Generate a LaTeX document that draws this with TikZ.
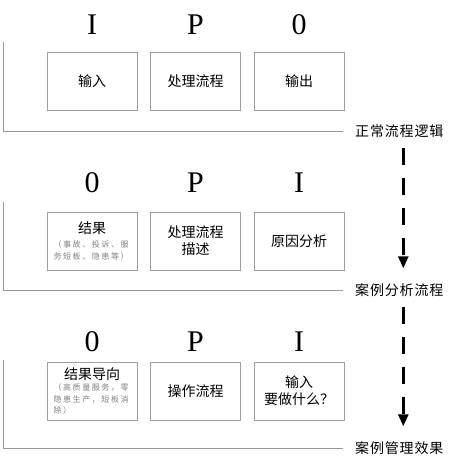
\documentclass[tikz,border=0pt]{standalone}
\usepackage{fontspec}
\setmainfont{Noto Sans CJK SC}
\newfontfamily\latinserif{Liberation Serif}
\newfontfamily\cjkwide{Noto Sans CJK SC}[LetterSpace=6]
\newfontfamily\cjksmall{Noto Sans CJK SC}[LetterSpace=20]
\usetikzlibrary{arrows.meta, positioning}

\newcommand{\notetext}[1]{\parbox[t]{77pt}{\cjksmall\fontsize{8}{11.5}\selectfont\color{gray}#1}}

\begin{document}
\begin{tikzpicture}[
    x=1pt, y=-1pt,
    bracket/.style={
        draw=gray!80,
        line width=0.8pt,
    },
    flow/.style={
        line width=2.6pt,
        dash pattern=on 17pt off 13pt,
        -{Triangle[width=10pt,length=12pt]},
        shorten <=10pt,
        shorten >=15pt,
    },
    stage/.style={
        rectangle,
        draw=gray!75,
        line width=0.8pt,
        minimum width=90pt,
        minimum height=58pt,
        align=center,
        inner sep=2pt,
        font=\fontsize{14}{17}\selectfont,
    },
    letter/.style={
        font=\latinserif\fontsize{30}{30}\selectfont,
        inner sep=0pt,
        text depth=0pt,
    },
    caption/.style={
        font=\cjkwide\fontsize{14}{17}\selectfont,
        anchor=west,
        inner sep=0pt,
    }
]
    \useasboundingbox (0,0) rectangle (454,460);

    % Normal logic
    \node[stage] (in1) at (92,81) {输入};
    \node[stage] (proc1) at (195.5,81) {处理流程};
    \node[stage] (out1) at (299,81) {输出};
    \node[letter, above=17pt of in1] (i1) {I};
    \node[letter, above=17pt of proc1] (p1) {P};
    \node[letter, above=17pt of out1] (o1) {0};
    \node[caption] (cap1) at (355,131) {正常流程逻辑};
    \coordinate (top1) at (3,42);
    \draw[bracket] (top1) |- ([xshift=-12pt]cap1.west);

    % Case analysis
    \node[stage] (out2) at (92,241) {结果\\[-10pt]\notetext{（事故、投诉、服\\务短板、隐患等）}};
    \node[stage] (proc2) at (195.5,241) {处理流程\\描述};
    \node[stage] (in2) at (299,241) {原因分析};
    \node[letter, above=19pt of out2] (o2) {0};
    \node[letter, above=19pt of proc2] (p2) {P};
    \node[letter, above=19pt of in2] (i2) {I};
    \node[caption] (cap2) at (355,290) {案例分析流程};
    \coordinate (top2) at (3,202);
    \draw[bracket] (top2) |- ([xshift=-12pt]cap2.west);

    % Case management
    \node[stage] (out3) at (92,391) {结果导向\\[-12pt]\notetext{（高质量服务，零\\隐患生产，短板消\\除）}};
    \node[stage] (proc3) at (195.5,391) {操作流程};
    \node[stage] (in3) at (299,391) {输入\\要做什么？};
    \node[letter, above=10pt of out3] (o3) {0};
    \node[letter, above=10pt of proc3] (p3) {P};
    \node[letter, above=10pt of in3] (i3) {I};
    \node[caption] (cap3) at (355,448) {案例管理效果};
    \coordinate (top3) at (3,360);
    \draw[bracket] (top3) |- ([xshift=-12pt]cap3.west);

    % Flow between stages
    \draw[flow] ([xshift=4pt]cap1.south) -- ([xshift=4pt]cap2.north);
    \draw[flow] ([xshift=4pt]cap2.south) -- ([xshift=4pt]cap3.north);

\end{tikzpicture}
\end{document}
